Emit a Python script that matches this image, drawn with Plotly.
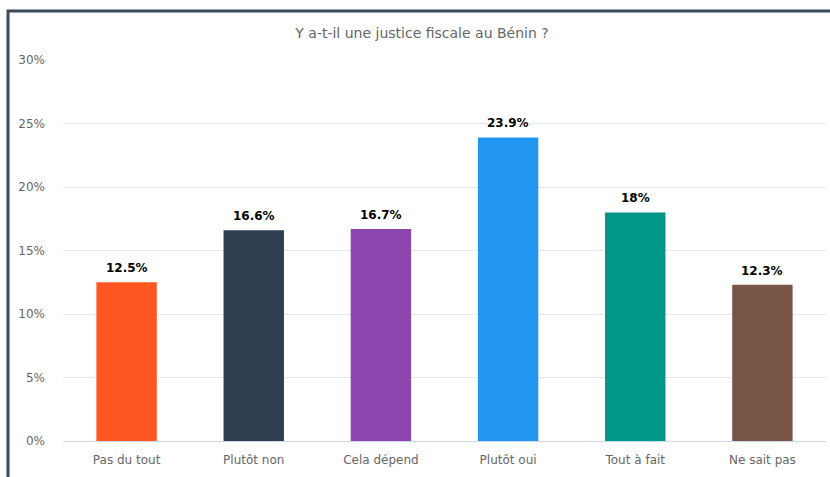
import plotly.graph_objects as go

# Survey answers and their shares (%)
categories = ["Pas du tout", "Plutôt non", "Cela dépend", "Plutôt oui", "Tout à fait", "Ne sait pas"]
shares = [12.5, 16.6, 16.7, 23.9, 18, 12.3]
bar_colors = ["#ff5722", "#2c3e50", "#8e44ad", "#2196f3", "#009688", "#795548"]
y_ticks = [0, 5, 10, 15, 20, 25, 30]

W, H = 830, 477
L, R, T, B = 63, 4, 60, 36
pw, ph = W - L - R, H - T - B

def px_x(p):
    return (p - L) / pw

def px_y(p):
    return (H - B - p) / ph

labels = [f"{v:g}%" for v in shares]
halo = ("1px 1px 1px #fff, -1px -1px 1px #fff, 1px -1px 1px #fff, "
        "-1px 1px 1px #fff, 0px 0px 2px #fff")

fig = go.Figure(go.Bar(
    x=categories,
    y=shares,
    marker=dict(color=bar_colors, line=dict(width=0)),
    hoverinfo="x+y",
))

# Value labels sitting just above each bar
for cat, val, lab in zip(categories, shares, labels):
    fig.add_annotation(
        x=cat, y=val, text=lab, showarrow=False,
        xanchor="center", yanchor="bottom", yshift=5,
        font=dict(family="DejaVu Sans", size=12, color="#000000",
                  weight="bold", shadow=halo),
    )

fig.update_layout(
    width=W, height=H,
    margin=dict(l=L, r=R, t=T, b=B),
    paper_bgcolor="#ffffff",
    plot_bgcolor="#ffffff",
    bargap=0.525,
    showlegend=False,
    font=dict(family="DejaVu Sans", size=12, color="#666666"),
    title=dict(text="Y a-t-il une justice fiscale au Bénin ?",
               x=422 / W, xanchor="center", y=1 - 33 / H, yanchor="middle",
               font=dict(family="DejaVu Sans", size=14, color="#666666")),
    xaxis=dict(showgrid=False, showline=False, ticks="",
               tickfont=dict(size=12, color="#666666"),
               ticklabelstandoff=10),
    yaxis=dict(range=[0, 30], tickvals=y_ticks,
               ticktext=[f"{t}%" for t in y_ticks],
               showgrid=True, gridcolor="#e6e6e6", gridwidth=1,
               zeroline=True, zerolinecolor="#ccd6eb", zerolinewidth=1,
               showline=False, ticks="",
               tickfont=dict(size=12, color="#666666"),
               ticklabelstandoff=17),
    shapes=[
        dict(type="rect", xref="paper", yref="paper",
             x0=px_x(8), x1=px_x(W + 20), y0=px_y(H + 20), y1=px_y(11),
             line=dict(color="#3a4b5a", width=3), fillcolor="rgba(0,0,0,0)",
             layer="below"),
    ],
)

fig.write_html("out.html")
